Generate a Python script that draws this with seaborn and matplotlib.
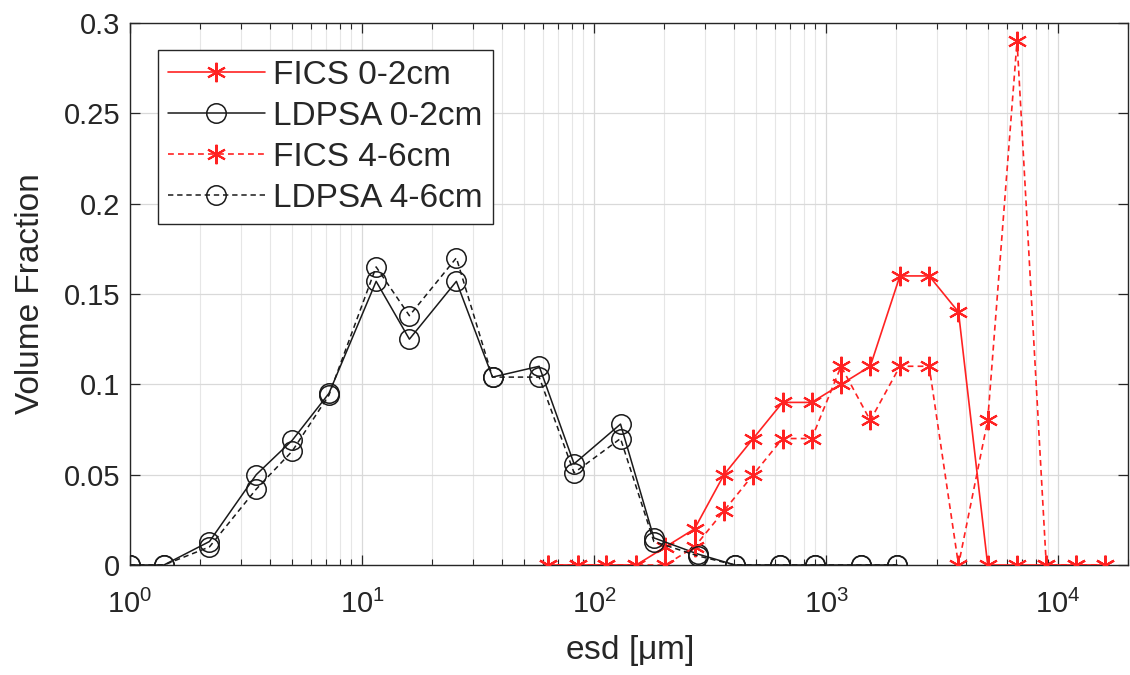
import numpy as np
import pandas as pd
import matplotlib
matplotlib.use("Agg")
import matplotlib.pyplot as plt
import matplotlib.ticker as mticker
import seaborn as sns

# ---- data ----
ldpsa_esd = [1, 1.4, 2.2, 3.5, 5, 7.2, 11.5, 16, 25.5, 36.5, 58, 82, 130, 181, 281, 405, 632, 897, 1416, 2024]
ldpsa_0_2 = [0, 0, 0.013, 0.050, 0.069, 0.095, 0.157, 0.125, 0.157, 0.104, 0.110, 0.056, 0.078, 0.015, 0.006, 0, 0, 0, 0, 0]
ldpsa_4_6 = [0, 0, 0.010, 0.042, 0.063, 0.094, 0.165, 0.138, 0.170, 0.104, 0.104, 0.051, 0.070, 0.013, 0.005, 0, 0, 0, 0, 0]

fics_esd = [63, 85, 113, 152, 203, 271, 363, 485, 649, 867, 1160, 1550, 2080, 2780, 3720, 4970, 6650, 8890, 11900, 15900]
fics_0_2 = [0, 0, 0, 0, 0.01, 0.02, 0.05, 0.07, 0.09, 0.09, 0.10, 0.11, 0.16, 0.16, 0.14, 0, 0, 0, 0, 0]
fics_4_6 = [0, 0, 0, 0, 0, 0.01, 0.03, 0.05, 0.07, 0.07, 0.11, 0.08, 0.11, 0.11, 0, 0.08, 0.29, 0, 0, 0]

y_ticks = [0, 0.05, 0.1, 0.15, 0.2, 0.25, 0.3]
y_tick_labels = ["0", "0.05", "0.1", "0.15", "0.2", "0.25", "0.3"]

sns.set_style("ticks")
plt.rcParams["font.family"] = ["Liberation Sans", "DejaVu Sans"]
plt.rcParams["mathtext.fontset"] = "custom"
plt.rcParams["mathtext.rm"] = "Liberation Sans"
plt.rcParams["mathtext.it"] = "Liberation Sans:italic"
plt.rcParams["mathtext.default"] = "regular"

axcol = "#262626"
fig = plt.figure(figsize=(11.3, 6.75), dpi=100)
ax = fig.add_axes([130 / 1130, 1 - 565 / 675, 998 / 1130, 542 / 675])
ax.set_xscale("log")

red = "#ff2222"
star = (6, 2, 0)

sns.lineplot(x=fics_esd, y=fics_0_2, ax=ax, color=red, linestyle="-", linewidth=1.2,
             marker=star, markersize=14, markeredgecolor=red, markeredgewidth=1.5,
             label="FICS 0-2cm", sort=False, zorder=3)
sns.lineplot(x=ldpsa_esd, y=ldpsa_0_2, ax=ax, color="#1a1a1a", linestyle="-", linewidth=1.1,
             marker="o", markersize=14, markerfacecolor="none", markeredgecolor="#1a1a1a",
             markeredgewidth=1.1, label="LDPSA 0-2cm", sort=False, zorder=3)
sns.lineplot(x=fics_esd, y=fics_4_6, ax=ax, color=red, linestyle=(0, (3.5, 2.5)), linewidth=1.2,
             marker=star, markersize=14, markeredgecolor=red, markeredgewidth=1.5,
             label="FICS 4-6cm", sort=False, zorder=3)
sns.lineplot(x=ldpsa_esd, y=ldpsa_4_6, ax=ax, color="#1a1a1a", linestyle=(0, (3.5, 2.5)), linewidth=1.1,
             marker="o", markersize=14, markerfacecolor="none", markeredgecolor="#1a1a1a",
             markeredgewidth=1.1, label="LDPSA 4-6cm", sort=False, zorder=3)

ax.set_xlim(1, 2e4)
ax.set_ylim(0, 0.3)
ax.set_yticks(y_ticks)
ax.set_yticklabels(y_tick_labels)
ax.xaxis.set_major_locator(mticker.LogLocator(base=10, numticks=10))
ax.xaxis.set_minor_locator(mticker.LogLocator(base=10, subs=np.arange(2, 10), numticks=20))
ax.xaxis.set_minor_formatter(mticker.NullFormatter())

ax.grid(True, which="major", axis="both", color="#d9d9d9", linewidth=0.9)
ax.grid(True, which="minor", axis="x", color="#e6e6e6", linewidth=0.8)
ax.set_axisbelow(True)

ax.tick_params(which="both", direction="in", top=True, right=True, colors=axcol,
               labelsize=21)
ax.tick_params(axis="x", which="major", pad=18)
ax.tick_params(axis="y", which="major", pad=7)
ax.tick_params(which="major", length=7, width=0.9)
ax.tick_params(which="minor", length=4, width=0.8)
for s in ax.spines.values():
    s.set_color(axcol)
    s.set_linewidth(1.0)

ax.set_xlabel("esd [$\\mu$m]", fontsize=24, color=axcol, labelpad=10)
ax.set_ylabel("Volume Fraction", fontsize=24, color=axcol, labelpad=13)

leg = ax.legend(loc="upper left", bbox_to_anchor=(0.028, 0.95), borderaxespad=0,
                fontsize=24, frameon=True, fancybox=False, handlelength=2.9,
                handletextpad=0.25, labelspacing=0.3, borderpad=0.3)
leg.get_frame().set_edgecolor(axcol)
leg.get_frame().set_linewidth(1.0)
leg.get_frame().set_alpha(1)

fig.savefig("out.png", dpi=100)
